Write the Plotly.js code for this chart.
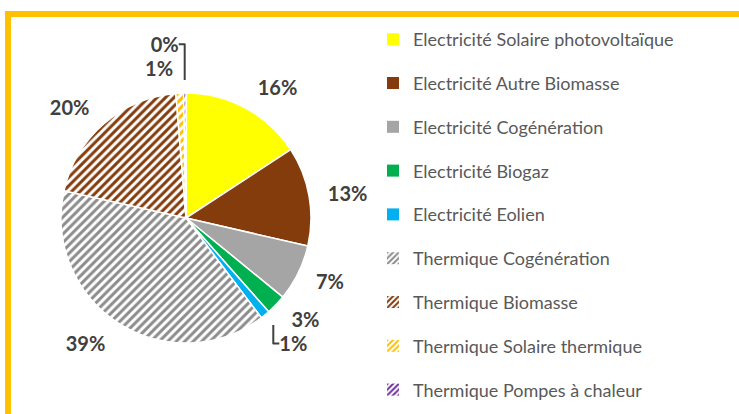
<!DOCTYPE html>
<html>
<head>
<meta charset="utf-8">
<script src="https://cdn.plot.ly/plotly-3.0.1.min.js"></script>
<style>html,body{margin:0;padding:0;background:#fff;}#chart{width:739px;height:414px;}</style>
</head>
<body>
<div id="chart"></div>
<script>
// Data (shares in %)
const categories = [
  "Electricité Solaire photovoltaïque",
  "Electricité Autre Biomasse",
  "Electricité Cogénération",
  "Electricité Biogaz",
  "Electricité Eolien",
  "Thermique Cogénération",
  "Thermique Biomasse",
  "Thermique Solaire thermique",
  "Thermique Pompes à chaleur"
];
const shares = [15.8, 12.8, 7.3, 2.6, 1.2, 38.8, 20.2, 1.0, 0.3];
const sliceColors = ["#FFFF00", "#843C0C", "#A5A5A5", "#00B050", "#00B0F0", "#8C8C8C", "#843C0C", "#FFC000", "#7030A0"];
const hatched = [false, false, false, false, false, true, true, true, true];

const W = 739, H = 414;
const cx = 186, cy = 218, R = 125, RLabel = 138;

function domainFor(r) {
  return {x: [(cx - r) / W, (cx + r) / W], y: [1 - (cy + r) / H, 1 - (cy - r) / H]};
}

const pie = {
  type: "pie",
  labels: categories,
  values: shares,
  sort: false,
  direction: "clockwise",
  rotation: 0,
  showlegend: false,
  domain: domainFor(R),
  marker: {
    colors: hatched.map((h, i) => h ? "#FFFFFF" : sliceColors[i]),
    line: {color: "#FFFFFF", width: 1.5},
    pattern: {
      shape: hatched.map(h => h ? "/" : ""),
      fgcolor: sliceColors,
      bgcolor: "#FFFFFF",
      fillmode: "replace",
      size: 6,
      solidity: 0.5
    }
  },
  textinfo: "none",
  hoverinfo: "label+percent"
};

// Same data, transparent ring used only to carry the outside percentage labels a bit further out
const labelPie = {
  type: "pie",
  labels: categories,
  values: shares,
  sort: false,
  direction: "clockwise",
  rotation: 0,
  showlegend: false,
  domain: domainFor(RLabel),
  marker: {colors: categories.map(() => "rgba(0,0,0,0)"), line: {width: 0}},
  texttemplate: "%{percent:.0%}",
  textposition: "outside",
  outsidetextfont: {family: "Lato", size: 20, color: "#404040", weight: "bold"},
  hoverinfo: "skip"
};

// Legend entries (no data drawn; one legend group per category for spacing)
const legendTraces = categories.map((c, i) => ({
  type: "bar",
  x: [null], y: [null],
  name: c,
  legendgroup: "g" + i,
  xaxis: "x", yaxis: "y",
  marker: hatched[i]
    ? {color: "#FFFFFF", pattern: {shape: "/", fgcolor: sliceColors[i], bgcolor: "#FFFFFF", fillmode: "replace", size: 5, solidity: 0.5}}
    : {color: sliceColors[i]},
  hoverinfo: "skip"
}));

const layout = {
  width: W, height: H,
  autosize: false,
  margin: {l: 0, r: 0, t: 0, b: 0, pad: 0},
  paper_bgcolor: "#FFFFFF",
  plot_bgcolor: "rgba(0,0,0,0)",
  xaxis: {visible: false, domain: [0.99, 1]},
  yaxis: {visible: false, domain: [0, 0.01]},
  showlegend: true,
  legend: {
    x: 373 / W, xanchor: "left",
    y: 1 - 21 / H, yanchor: "top",
    font: {family: "Lato", size: 18, color: "#595959"},
    tracegroupgap: 17.4,
    bgcolor: "rgba(0,0,0,0)",
    itemclick: false, itemdoubleclick: false
  },
  shapes: [{
    type: "rect", xref: "paper", yref: "paper",
    x0: 8 / W, x1: 1.05, y0: -0.05, y1: 1 - 14 / H,
    line: {color: "#FFC000", width: 6},
    fillcolor: "rgba(0,0,0,0)",
    layer: "above"
  }]
};

Plotly.newPlot("chart", [pie, labelPie].concat(legendTraces), layout, {displayModeBar: false, staticPlot: true});
</script>
</body>
</html>
